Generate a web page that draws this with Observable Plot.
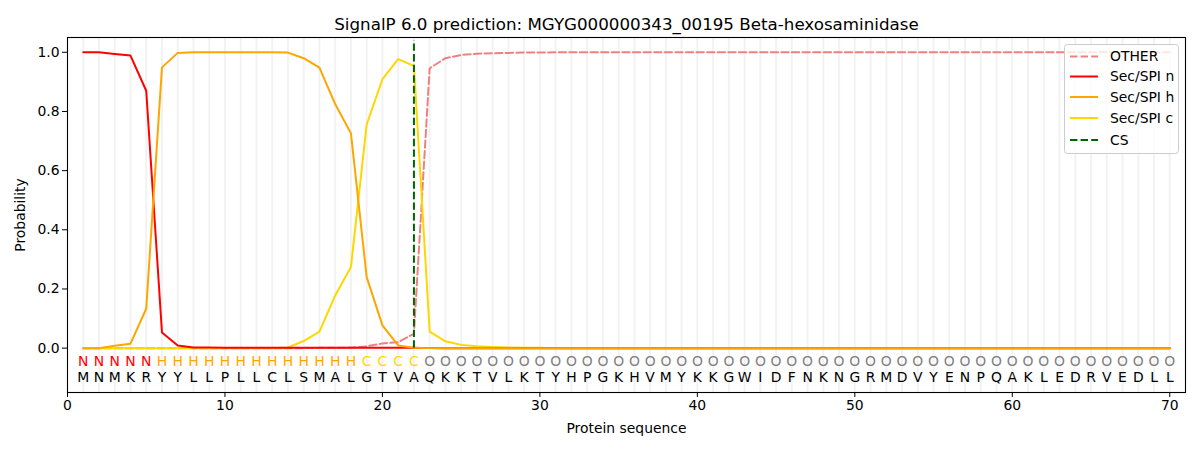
<!DOCTYPE html>
<html>
<head>
<meta charset="utf-8">
<script src="https://cdn.jsdelivr.net/npm/d3@7"></script>
<script src="https://cdn.jsdelivr.net/npm/@observablehq/plot@0.6"></script>
<style>
  html, body { margin: 0; padding: 0; background: #fff; }
  #wrap { position: relative; width: 1200px; height: 450px; font-family: "DejaVu Sans", sans-serif; }
  #legend { position: absolute; left: 1064px; top: 44px; }
</style>
</head>
<body>
<div id="wrap"><div id="chart"></div><div id="legend"></div></div>
<script>
const title = "SignalP 6.0 prediction: MGYG000000343_00195 Beta-hexosaminidase";
const sequence = "MNMKRYYLLPLLCLSMALGTVAQKKTVLKTYHPGKHVMYKKGWIDFNKNGRMDVYENPQAKLEDRVEDLL";
const labels   = "NNNNNHHHHHHHHHHHHHCCCCOOOOOOOOOOOOOOOOOOOOOOOOOOOOOOOOOOOOOOOOOOOOOOOO";
const xTicks = [0, 10, 20, 30, 40, 50, 60, 70];
const yTicks = [0, 0.2, 0.4, 0.6, 0.8, 1.0];
const cleavageSite = 22;
const csSpan = [0, 1.04];

const other = [0,0,0,0,0,0,0,0,0,0,0,0,0,0,0,0.001,0.001,0.002,0.006,0.016,0.02,0.049,0.946,0.98,0.991,0.995,0.997,0.998,0.999,0.999,
  1,1,1,1,1,1,1,1,1,1,1,1,1,1,1,1,1,1,1,1,1,1,1,1,1,1,1,1,1,1,1,1,1,1,1,1,1,1,1,1];
const secN = [1.0,1.0,0.994,0.989,0.87,0.053,0.009,0.002,0.002,0.001,0.001,0.001,0.001,0.001,0.001,0.001,0.001,0.001,0.001,0.001,0.001,0.001,
  0,0,0,0,0,0,0,0,0,0,0,0,0,0,0,0,0,0,0,0,0,0,0,0,0,0,0,0,0,0,0,0,0,0,0,0,0,0,0,0,0,0,0,0,0,0,0,0];
const secH = [0,0,0.008,0.015,0.133,0.949,0.998,1,1,1,1,1,1,0.999,0.98,0.948,0.825,0.726,0.24,0.077,0.009,0.001,
  0,0,0,0,0,0,0,0,0,0,0,0,0,0,0,0,0,0,0,0,0,0,0,0,0,0,0,0,0,0,0,0,0,0,0,0,0,0,0,0,0,0,0,0,0,0,0,0];
const secC = [0,0,0,0,0,0,0,0,0,0,0,0,0,0.002,0.024,0.056,0.178,0.274,0.756,0.909,0.977,0.954,0.056,0.023,0.011,0.006,0.004,0.002,0.001,0.001,
  0,0,0,0,0,0,0,0,0,0,0,0,0,0,0,0,0,0,0,0,0,0,0,0,0,0,0,0,0,0,0,0,0,0,0,0,0,0,0,0];

const seriesNames = ["OTHER", "Sec/SPI n", "Sec/SPI h", "Sec/SPI c", "CS"];
const seriesColors = ["#f08080", "#ff0000", "#ffa500", "#ffd700", "#006400"];
const labelColors = {N: "#ff0000", H: "#ffa500", C: "#ffd700", O: "#808080"};

const residues = Array.from(sequence, (aa, i) => ({pos: i + 1, aa, lab: labels[i]}));
const rows = (vals) => vals.map((v, i) => ({pos: i + 1, v}));
const font = "DejaVu Sans, sans-serif";
const dash = "7.4,3.2";

const plot = Plot.plot({
  width: 1200, height: 450,
  marginLeft: 67, marginRight: 15, marginTop: 37, marginBottom: 58,
  style: {fontFamily: font, fontSize: "13.9px", background: "white", color: "black"},
  x: {domain: [0, 71]},
  y: {domain: [-0.15, 1.05]},
  marks: [
    Plot.ruleX(residues, {x: "pos", stroke: "#000", strokeOpacity: 0.05, strokeWidth: 2}),
    Plot.line(rows(other), {x: "pos", y: "v", stroke: seriesColors[0], strokeWidth: 2, strokeDasharray: dash}),
    Plot.line(rows(secC), {x: "pos", y: "v", stroke: seriesColors[3], strokeWidth: 2}),
    Plot.line(rows(secN), {x: "pos", y: "v", stroke: seriesColors[1], strokeWidth: 2}),
    Plot.line(rows(secH), {x: "pos", y: "v", stroke: seriesColors[2], strokeWidth: 2}),
    Plot.ruleX([cleavageSite], {x: d => d, y1: csSpan[0], y2: csSpan[1], stroke: seriesColors[4], strokeWidth: 2, strokeDasharray: dash}),
    Plot.text(residues, {x: "pos", y: -0.045, text: "lab", fill: d => labelColors[d.lab], fontSize: 13.9}),
    Plot.text(residues, {x: "pos", y: -0.098, text: "aa", fill: "#000", fontSize: 13.9}),
    Plot.axisX({ticks: xTicks, tickSize: 5, tickPadding: 3, tickFormat: d3.format("d"),
      label: "Protein sequence", labelAnchor: "center", labelArrow: "none", labelOffset: 40}),
    Plot.axisY({ticks: yTicks, tickSize: 5, tickPadding: 3, tickFormat: d3.format(".1f"),
      label: "Probability", labelAnchor: "center", labelArrow: "none", labelOffset: 52}),
    Plot.frame({stroke: "black", strokeWidth: 1.1}),
    Plot.text([title], {text: d => d, frameAnchor: "top", lineAnchor: "bottom", dy: -8, fontSize: 16.7, fill: "#000"})
  ]
});
document.getElementById("chart").appendChild(plot);

// Legend
const lw = 114, lh = 109;
const svg = d3.select("#legend").append("svg").attr("width", lw + 2).attr("height", lh + 2)
  .style("font-family", font);
svg.append("rect").attr("x", 0.5).attr("y", 0.5).attr("width", lw).attr("height", lh)
  .attr("rx", 3).attr("fill", "white").attr("fill-opacity", 0.8).attr("stroke", "#cccccc");
const rowY = [12.5, 32.5, 53, 74, 96];
const dashed = [true, false, false, false, true];
seriesNames.forEach((name, i) => {
  svg.append("line").attr("x1", 6).attr("x2", 34).attr("y1", rowY[i]).attr("y2", rowY[i])
    .attr("stroke", seriesColors[i]).attr("stroke-width", 2)
    .attr("stroke-dasharray", dashed[i] ? dash : null);
  svg.append("text").attr("x", 46).attr("y", rowY[i]).attr("dy", "0.35em")
    .attr("font-size", "13.9px").attr("fill", "#000").text(name);
});
</script>
</body>
</html>
